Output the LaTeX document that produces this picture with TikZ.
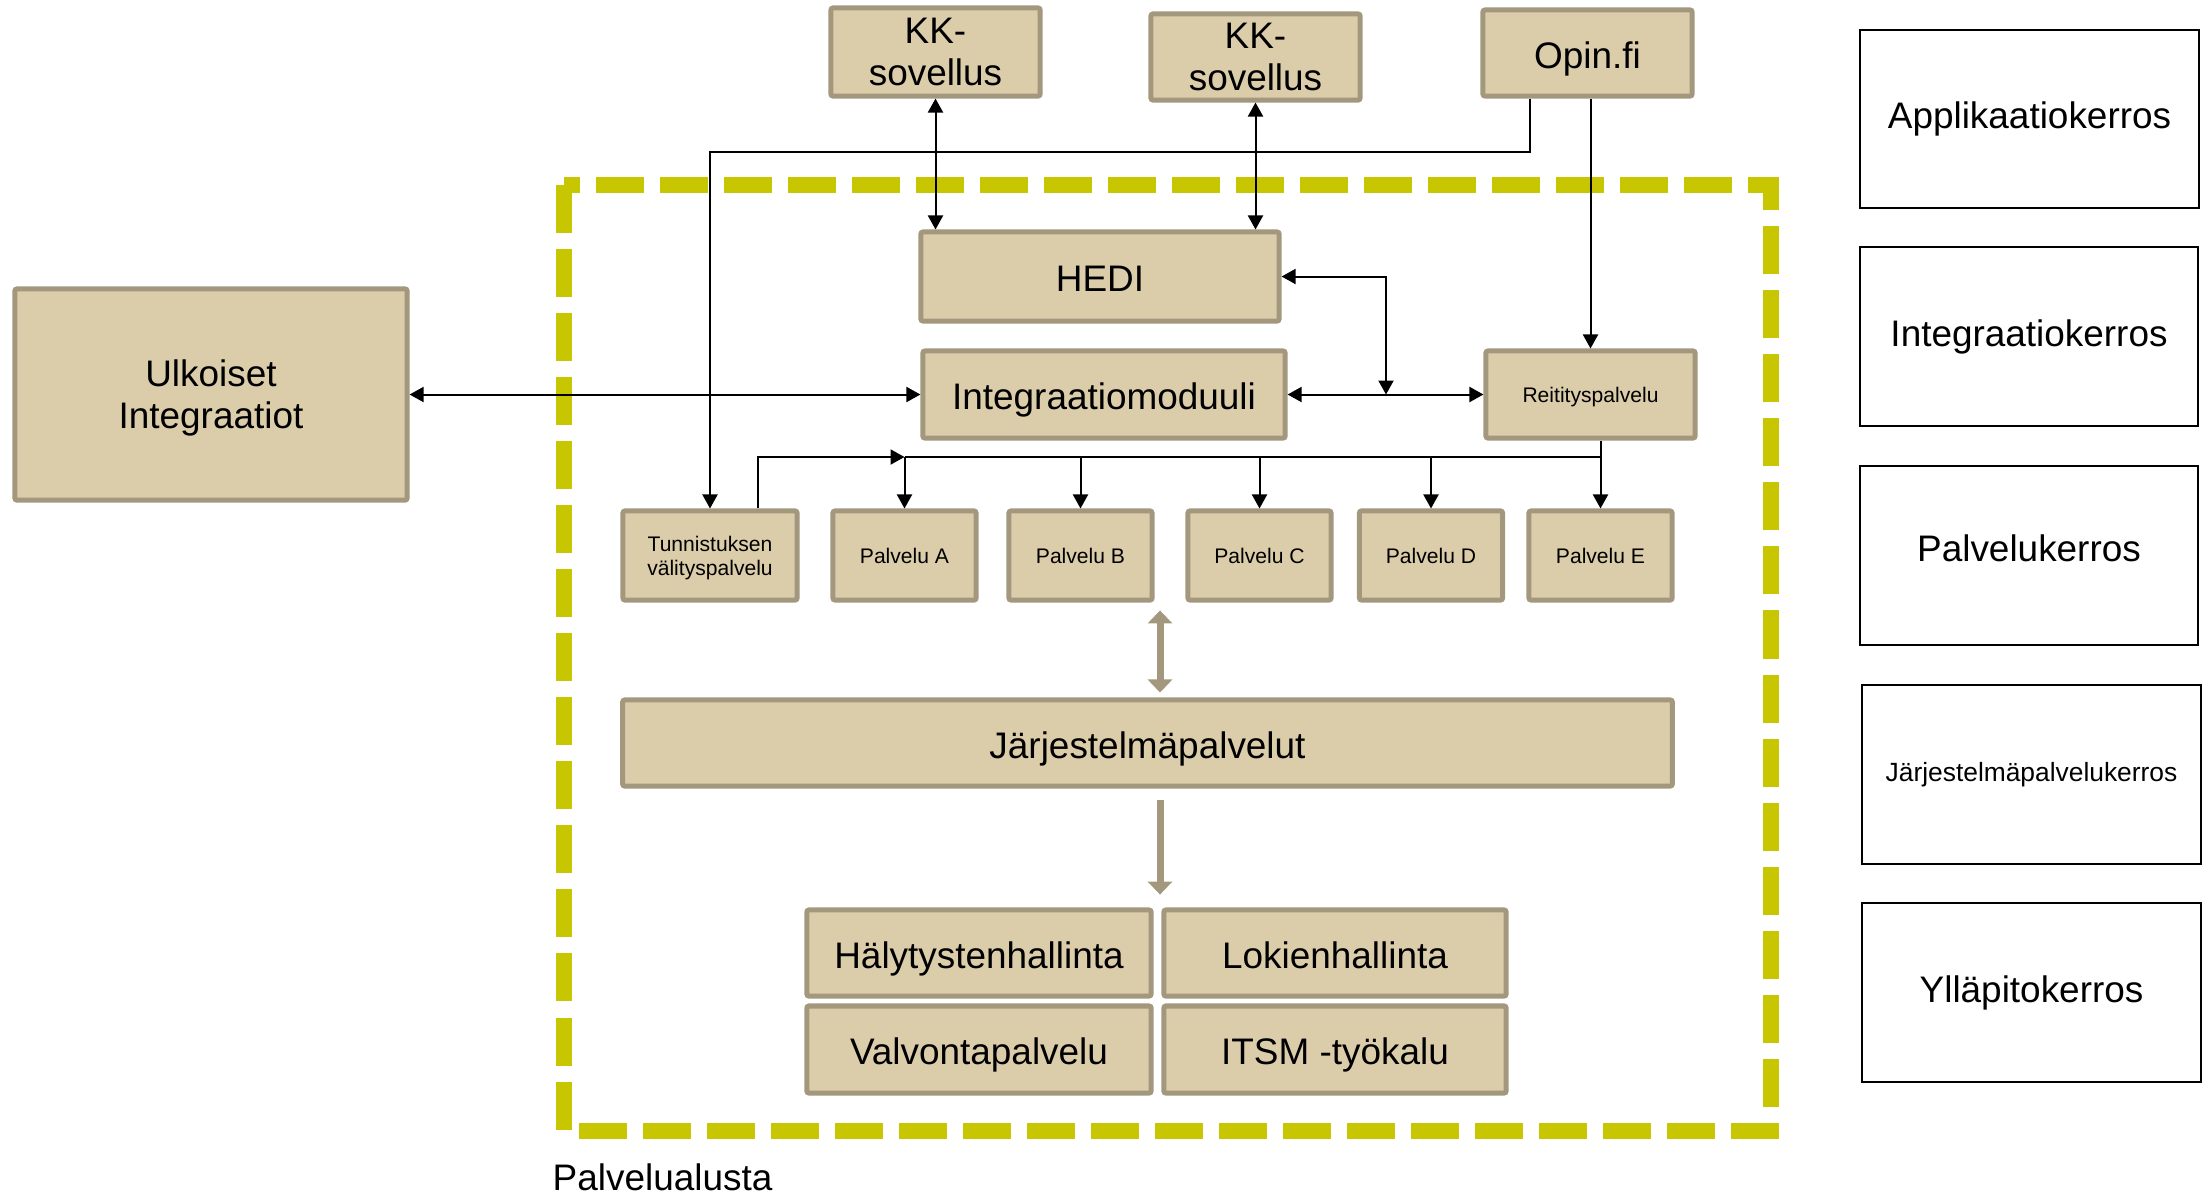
\documentclass[tikz,border=0pt]{standalone}
\usepackage{fontspec}
\setmainfont{Liberation Sans}
\usepackage{xcolor}
\definecolor{boxfill}{RGB}{220,205,170}
\definecolor{boxline}{RGB}{163,152,125}
\definecolor{platformyellow}{RGB}{200,198,0}
\usetikzlibrary{arrows.meta}

\begin{document}
\begin{tikzpicture}[x=0.01cm, y=-0.01cm,
		block/.style={draw=boxline, fill=boxfill, line width=0.05cm, rounded corners=0.02cm, inner sep=0pt, align=center, text depth=0pt, font=\fontsize{10.5}{12}\selectfont},
		oneline/.style={block, text height=8.8pt},
		smallblock/.style={block, font=\fontsize{6}{6.8}\selectfont},
		layer/.style={draw=black, line width=0.02cm, inner sep=0pt, minimum width=3.38cm, minimum height=1.78cm, font=\fontsize{10.5}{12}\selectfont},
		conn/.style={line width=0.02cm, -{Triangle[width=0.15cm,length=0.14cm]}},
		biconn/.style={line width=0.02cm, {Triangle[width=0.15cm,length=0.14cm]}-{Triangle[width=0.15cm,length=0.14cm]}},
		greyconn/.style={draw=boxline, line width=0.07cm, -{Triangle[width=0.24cm,length=0.13cm]}},
		greybiconn/.style={greyconn, {Triangle[width=0.24cm,length=0.13cm]}-{Triangle[width=0.24cm,length=0.13cm]}}]
			\useasboundingbox (0,0) rectangle (2209,1193);
			\draw [line width=0.16cm, platformyellow, dash pattern=on 0.48cm off 0.16cm] (564,185) rectangle (1771,1131);
			\node[right, inner sep=0pt, font=\fontsize{10.5}{12}\selectfont] (alusta) at (552,1177) {Palvelualusta};

			\node[block, minimum width=2.09cm, minimum height=0.88cm] (kk1) at (935.5,52) {KK-\\sovellus};
			\node[block, minimum width=2.09cm, minimum height=0.86cm] (kk2) at (1255.5,57) {KK-\\sovellus};
			\node[oneline, minimum width=2.09cm, minimum height=0.86cm] (opin) at (1587.5,53) {Opin.fi};
			\node[oneline, minimum width=3.58cm, minimum height=0.89cm] (hedi) at (1100,276.5) {HEDI};
			\node[oneline, minimum width=3.62cm, minimum height=0.87cm] (integ) at (1104,394.5) {Integraatiomoduuli};
			\node[smallblock, minimum width=2.09cm, minimum height=0.87cm] (reit) at (1590.5,394.5) {Reitityspalvelu};
			\node[block, minimum width=3.92cm, minimum height=2.11cm] (ulk) at (211,394.5) {Ulkoiset\\Integraatiot};

			\node[smallblock, minimum width=1.74cm, minimum height=0.89cm] (tunn) at (710,555.5) {Tunnistuksen\\välityspalvelu};
			\node[smallblock, minimum width=1.43cm, minimum height=0.89cm] (pa) at (904.5,555.5) {Palvelu A};
			\node[smallblock, minimum width=1.43cm, minimum height=0.89cm] (pb) at (1080.5,555.5) {Palvelu B};
			\node[smallblock, minimum width=1.43cm, minimum height=0.89cm] (pc) at (1259.5,555.5) {Palvelu C};
			\node[smallblock, minimum width=1.43cm, minimum height=0.89cm] (pd) at (1431,555.5) {Palvelu D};
			\node[smallblock, minimum width=1.43cm, minimum height=0.89cm] (pe) at (1600.5,555.5) {Palvelu E};

			\node[oneline, minimum width=10.49cm, minimum height=0.86cm] (jarj) at (1147.5,743) {Järjestelmäpalvelut};
			\node[oneline, minimum width=3.44cm, minimum height=0.86cm] (haly) at (979,953) {Hälytystenhallinta};
			\node[oneline, minimum width=3.42cm, minimum height=0.86cm] (loki) at (1335,953) {Lokienhallinta};
			\node[oneline, minimum width=3.44cm, minimum height=0.87cm] (valv) at (979,1049.5) {Valvontapalvelu};
			\node[oneline, minimum width=3.42cm, minimum height=0.87cm] (itsm) at (1335,1049.5) {ITSM -työkalu};

			\node[layer] (lapp) at (2029.5,119) {Applikaatiokerros};
			\node[layer] (linteg) at (2029,336.5) {Integraatiokerros};
			\node[layer, text depth=4pt] (lpalv) at (2029,555.5) {Palvelukerros};
			\node[layer, font=\fontsize{7.5}{9}\selectfont] (ljarj) at (2031.5,774.5) {Järjestelmäpalvelukerros};
			\node[layer] (lyll) at (2031.5,992.5) {Ylläpitokerros};

			\coordinate (opinbend) at (1530,152);
			\coordinate (hedijoin) at (1386,394.5);
			\coordinate (busy) at (0,457);

			\draw [biconn] (kk1.south) -- (kk1.south |- hedi.north);
			\draw [biconn] (kk2.south) -- (kk2.south |- hedi.north);
			\draw [conn] (opinbend |- opin.south) |- (tunn.north |- opinbend) -- (tunn.north);
			\draw [conn] (opin.south -| reit.north) -- (reit.north);
			\draw [biconn] (hedi.east) -| (hedijoin);
			\draw [biconn] (integ.east) -- (reit.west);
			\draw [biconn] (ulk.east) -- (integ.west);
			\draw [line width=0.02cm] (reit.south -| pe.north) -- (pe.north |- busy) -- (pa.north |- busy);
			\foreach \p in {pa,pb,pc,pd,pe}
				\draw [conn] (\p.north |- busy) -- (\p.north);
			\draw [conn] ([xshift=0.48cm]tunn.north) |- (pa.north |- busy);

			\draw [greybiconn] ([xshift=1.25mm,yshift=0.5mm]jarj.north) -- ([xshift=1.25mm,yshift=8.7mm]jarj.north);
			\draw [greyconn] ([xshift=1.25mm,yshift=-1.1mm]jarj.south) -- ([xshift=1.25mm,yshift=-10.6mm]jarj.south);
		\end{tikzpicture}
\end{document}
